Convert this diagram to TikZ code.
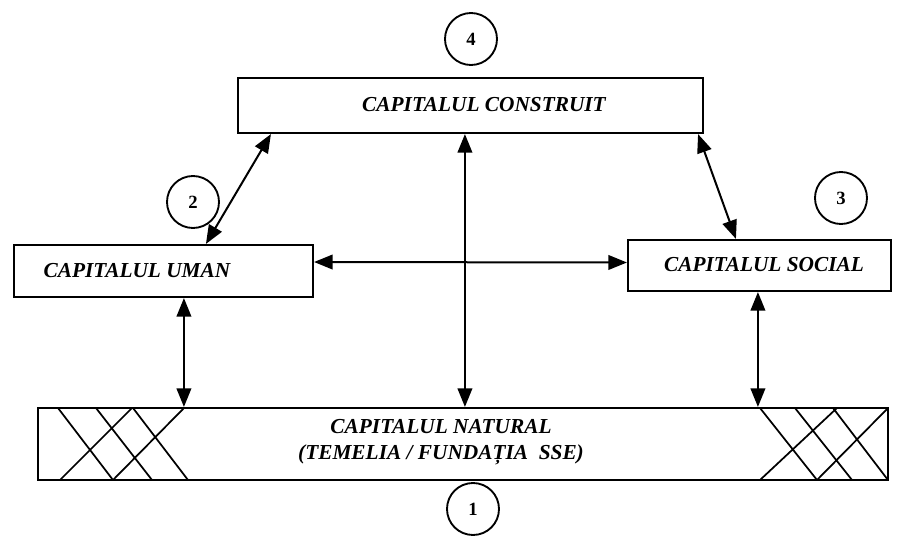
\documentclass[tikz,border=0pt]{standalone}
\usepackage{fontspec}
\setmainfont{Liberation Serif}
\usetikzlibrary{arrows.meta,calc}
\begin{document}
\begin{tikzpicture}[x=0.75pt,y=-0.75pt,
  capbox/.style={draw, line width=1.6pt, inner sep=0pt},
  lbl/.style={font=\fontsize{16}{19.5}\selectfont\bfseries\itshape, align=center, inner sep=0pt},
  num/.style={draw, circle, line width=1.4pt, minimum size=39pt, inner sep=0pt,
              font=\fontsize{14}{14}\selectfont\bfseries},
  link/.style={line width=1.5pt,
               {Triangle[length=14pt,width=11pt]}-{Triangle[length=14pt,width=11pt]}},
  hatch/.style={line width=1.3pt}]
\useasboundingbox (0,0) rectangle (900,536);

% the four forms of capital
\node[capbox, minimum width=348.75pt, minimum height=41.25pt] (constr) at (470.5,105.5) {};
\node[capbox, minimum width=224.25pt, minimum height=39pt] (uman) at (163.5,271) {};
\node[capbox, minimum width=197.25pt, minimum height=38.25pt] (social) at (759.5,265.5) {};
\node[capbox, minimum width=637.5pt, minimum height=54pt] (natural) at (463,444) {};

% cross-hatching at both ends of the foundation
\draw[hatch] (58,408) -- (113,480) (96,408) -- (152,480) (133,408) -- (188,480)
             (132,408) -- (60,480) (184,408) -- (113,480);
\draw[hatch] (760,408) -- (817,480) (795,408) -- (852,480) (833,408) -- (888,480)
             (888,408) -- (817,480) (837,408) -- (760,480);

% labels
\node[lbl] (tconstr) at (484,105) {CAPITALUL CONSTRUIT};
\node[lbl] (tuman) at (137,271) {CAPITALUL UMAN};
\node[lbl] (tsocial) at (764,265) {CAPITALUL SOCIAL};
\node[lbl] (tnatural) at (441,442) {CAPITALUL NATURAL\\(TEMELIA / FUNDAȚIA\ \ SSE)};

% numbered circles
\node[num] (n4) at (471,39) {4};
\node[num] (n2) at (193,202) {2};
\node[num] (n3) at (841,198) {3};
\node[num] (n1) at (473,509) {1};

% two-way links
\draw[link] ($(uman.north west)+(193,0)$) -- ($(constr.south west)+(34,0)$);
\draw[link] ($(social.north west)+(109,0)$) -- ($(constr.south east)+(-6,0)$);
\draw[link] ($(constr.south west)+(228,0)$) -- ($(natural.north west)+(428,0)$);
\draw[link] ($(uman.east)+(0,-9)$) -- ($(social.west)+(0,-3)$);
\draw[link] ($(uman.south west)+(171,0)$) -- ($(natural.north west)+(147,0)$);
\draw[link] ($(social.south west)+(131,0)$) -- ($(natural.north west)+(721,0)$);
\end{tikzpicture}
\end{document}
